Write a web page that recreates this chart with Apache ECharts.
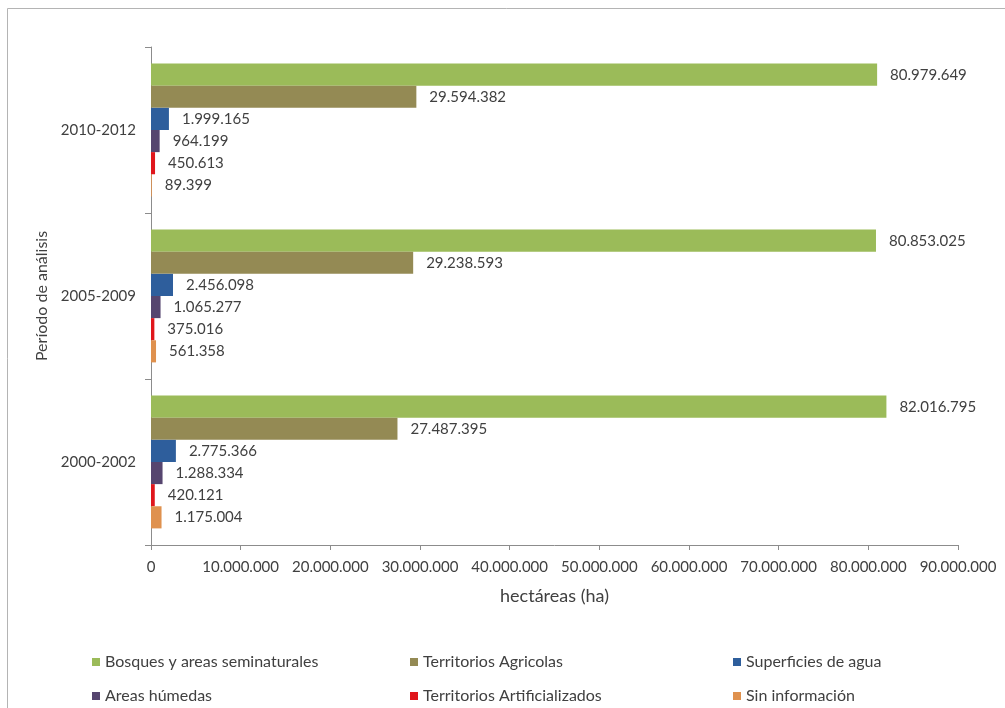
<!DOCTYPE html>
<html>
<head>
<meta charset="utf-8">
<script src="https://cdn.jsdelivr.net/npm/echarts@6/dist/echarts.min.js"></script>
<style>
  html, body { margin: 0; padding: 0; background: #fff; }
  #chart { width: 1005px; height: 708px; }
</style>
</head>
<body>
<div id="chart"></div>
<script>
// Superficie por cobertura del suelo y periodo (hectáreas)
const categories = ['2000-2002', '2005-2009', '2010-2012'];
const bosques = [82016795, 80853025, 80979649];
const agricolas = [27487395, 29238593, 29594382];
const agua = [2775366, 2456098, 1999165];
const humedas = [1288334, 1065277, 964199];
const artificializados = [420121, 375016, 450613];
const sinInformacion = [1175004, 561358, 89399];
const xTicks = [0, 10000000, 20000000, 30000000, 40000000, 50000000, 60000000, 70000000, 80000000, 90000000];

const seriesNames = ['Bosques y areas seminaturales', 'Territorios Agricolas', 'Superficies de agua',
  'Areas húmedas', 'Territorios Artificializados', 'Sin información'];
const seriesData = [bosques, agricolas, agua, humedas, artificializados, sinInformacion];
const colors = ['#9BBB59', '#948A54', '#2E5E9C', '#56456F', '#E0161C', '#DF914E'];

const FONT = 'Lato, "Liberation Sans", sans-serif';
const TEXT = '#404040';
const fmt = v => String(v).replace(/\B(?=(\d{3})+(?!\d))/g, '.');

const chart = echarts.init(document.getElementById('chart'), null, { renderer: 'canvas' });

// legend laid out as a 3 x 2 table
const legendPos = [
  { left: 92, top: 654 }, { left: 410, top: 654 }, { left: 733, top: 654 },
  { left: 92, top: 688 }, { left: 410, top: 688 }, { left: 733, top: 688 }
];

const option = {
  backgroundColor: '#fff',
  animation: false,
  textStyle: { fontFamily: FONT },
  graphic: [{
    type: 'rect',
    shape: { x: 7.5, y: 8.5, width: 1100, height: 800 },
    style: { fill: 'none', stroke: '#b4b4b4', lineWidth: 1 },
    silent: true
  }],
  legend: seriesNames.map((name, i) => ({
    data: [name],
    left: legendPos[i].left,
    top: legendPos[i].top,
    padding: 0,
    icon: 'rect',
    itemWidth: 8,
    itemHeight: 8,
    itemGap: 0,
    selectedMode: false,
    textStyle: { fontFamily: FONT, fontSize: 16, color: TEXT }
  })),
  grid: { left: 151, right: 47, top: 47, bottom: 163, containLabel: false },
  xAxis: {
    type: 'value',
    min: xTicks[0],
    max: xTicks[xTicks.length - 1],
    interval: xTicks[1] - xTicks[0],
    name: 'hectáreas (ha)',
    nameLocation: 'middle',
    nameGap: 42,
    nameTextStyle: { fontFamily: FONT, fontSize: 18, color: TEXT },
    axisLine: { show: true, lineStyle: { color: '#8c8c8c' } },
    axisTick: { show: true, length: 5, lineStyle: { color: '#8c8c8c' } },
    axisLabel: { fontFamily: FONT, fontSize: 15, color: TEXT, margin: 15, formatter: v => fmt(v) },
    splitLine: { show: false }
  },
  yAxis: {
    type: 'category',
    data: categories,
    name: 'Período de análisis',
    nameLocation: 'middle',
    nameGap: 100,
    nameRotate: 90,
    nameTextStyle: { fontFamily: FONT, fontSize: 16, color: TEXT },
    axisLine: { show: true, lineStyle: { color: '#8c8c8c' } },
    axisTick: { show: true, length: 6, lineStyle: { color: '#8c8c8c' } },
    axisLabel: { fontFamily: FONT, fontSize: 15, color: TEXT, margin: 15 }
  },
  series: seriesNames.map((name, i) => ({
    name: name,
    type: 'bar',
    data: seriesData[i],
    barGap: '0%',
    barCategoryGap: '20%',
    itemStyle: { color: colors[i] },
    label: {
      show: true,
      position: 'right',
      distance: 10,
      padding: [1, 3],
      backgroundColor: '#fff',
      fontFamily: FONT,
      fontSize: 15,
      color: TEXT,
      formatter: p => fmt(p.value)
    }
  }))
};

chart.setOption(option);
</script>
</body>
</html>
